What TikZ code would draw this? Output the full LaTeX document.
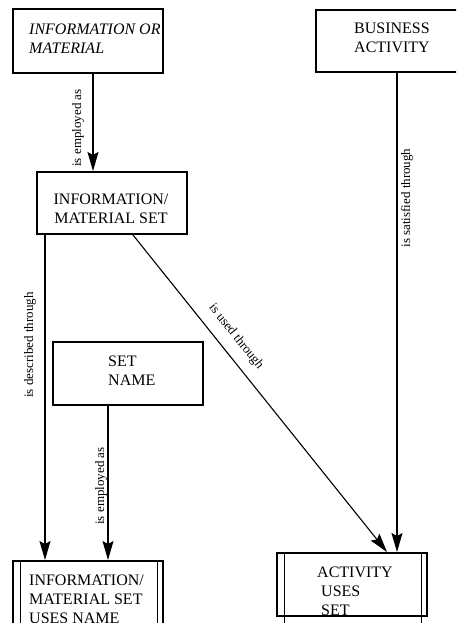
\documentclass[tikz,border=0pt]{standalone}
\usepackage{fontspec}
\setmainfont{Liberation Serif}
\usetikzlibrary{arrows.meta}
\begin{document}
\begin{tikzpicture}[x=1pt,y=-1pt,
  box/.style={draw, line width=2pt, minimum width=150pt, minimum height=63pt, inner sep=0pt},
  boxtext/.style={font=\fontsize{16}{19}\selectfont, inner sep=0pt},
  lbl/.style={font=\fontsize{13}{15}\selectfont, inner sep=0pt},
  conn/.style={line width=1.1pt, -{Stealth[length=19pt,width=11pt,inset=3pt]}},
  innerline/.style={line width=0.8pt}]
\useasboundingbox (0,0) rectangle (456,623);
\clip (0,0) rectangle (456,623);
% boxes
\node[box, minimum height=64pt] (b1) at (88,41) {};
\node[box, minimum height=62pt] (b2) at (391,41) {};
\node[box, minimum height=62pt] (b3) at (112,203) {};
\node[box] (b4) at (128,373.5) {};
\node[box] (b5) at (88,592.5) {};
\node[box] (b6) at (352,584.5) {};
% double side lines
\draw[innerline] ([xshift=8pt]b5.north west) -- ++(0,70);
\draw[innerline] ([xshift=-7pt]b5.north east) -- ++(0,70);
\draw[innerline] ([xshift=8pt]b6.north west) -- ++(0,72);
\draw[innerline] ([xshift=-7pt]b6.north east) -- ++(0,72);
% texts
\node[boxtext, anchor=west, align=left, font=\fontsize{16}{19}\selectfont\itshape] (t1) at (29,39) {INFORMATION OR\\MATERIAL};
\node[boxtext, align=center] (t2) at (392,38) {BUSINESS\\ACTIVITY};
\node[boxtext, align=center] (t3) at (111,208.5) {INFORMATION/\\MATERIAL SET};
\node[boxtext, anchor=west, align=left] (t4) at (108,370.5) {SET\\NAME};
\node[boxtext, anchor=west, align=left] (t5) at (29,599) {INFORMATION/\\MATERIAL SET\\USES NAME};
\node[boxtext, anchor=west, align=left] (t6) at (317,591) {ACTIVITY\\\hspace*{4pt}USES\\\hspace*{4pt}SET};
% connectors
\draw[conn] ([xshift=5pt]b1.south) -- ([xshift=5pt]b1.south |- b3.north);
\draw[conn] ([xshift=6pt]b2.south) -- ([xshift=6pt]b2.south |- b6.north);
\draw[conn] ([xshift=-67pt]b3.south) -- ([xshift=-67pt]b3.south |- b5.north);
\draw[conn] ([xshift=21pt]b3.south) -- ([xshift=35pt]b6.north);
\draw[conn] ([xshift=-20pt]b4.south) -- ([xshift=-20pt]b4.south |- b5.north);
% labels
\node[lbl, rotate=90] (l1) at (78,128) {is employed as};
\node[lbl, rotate=90] (l2) at (407,198) {is satisfied through};
\node[lbl, rotate=90] (l3) at (30,345) {is described through};
\node[lbl, rotate=-51.4] (l4) at (236,337) {is used through};
\node[lbl, rotate=90] (l5) at (101,486) {is employed as};
\end{tikzpicture}
\end{document}
